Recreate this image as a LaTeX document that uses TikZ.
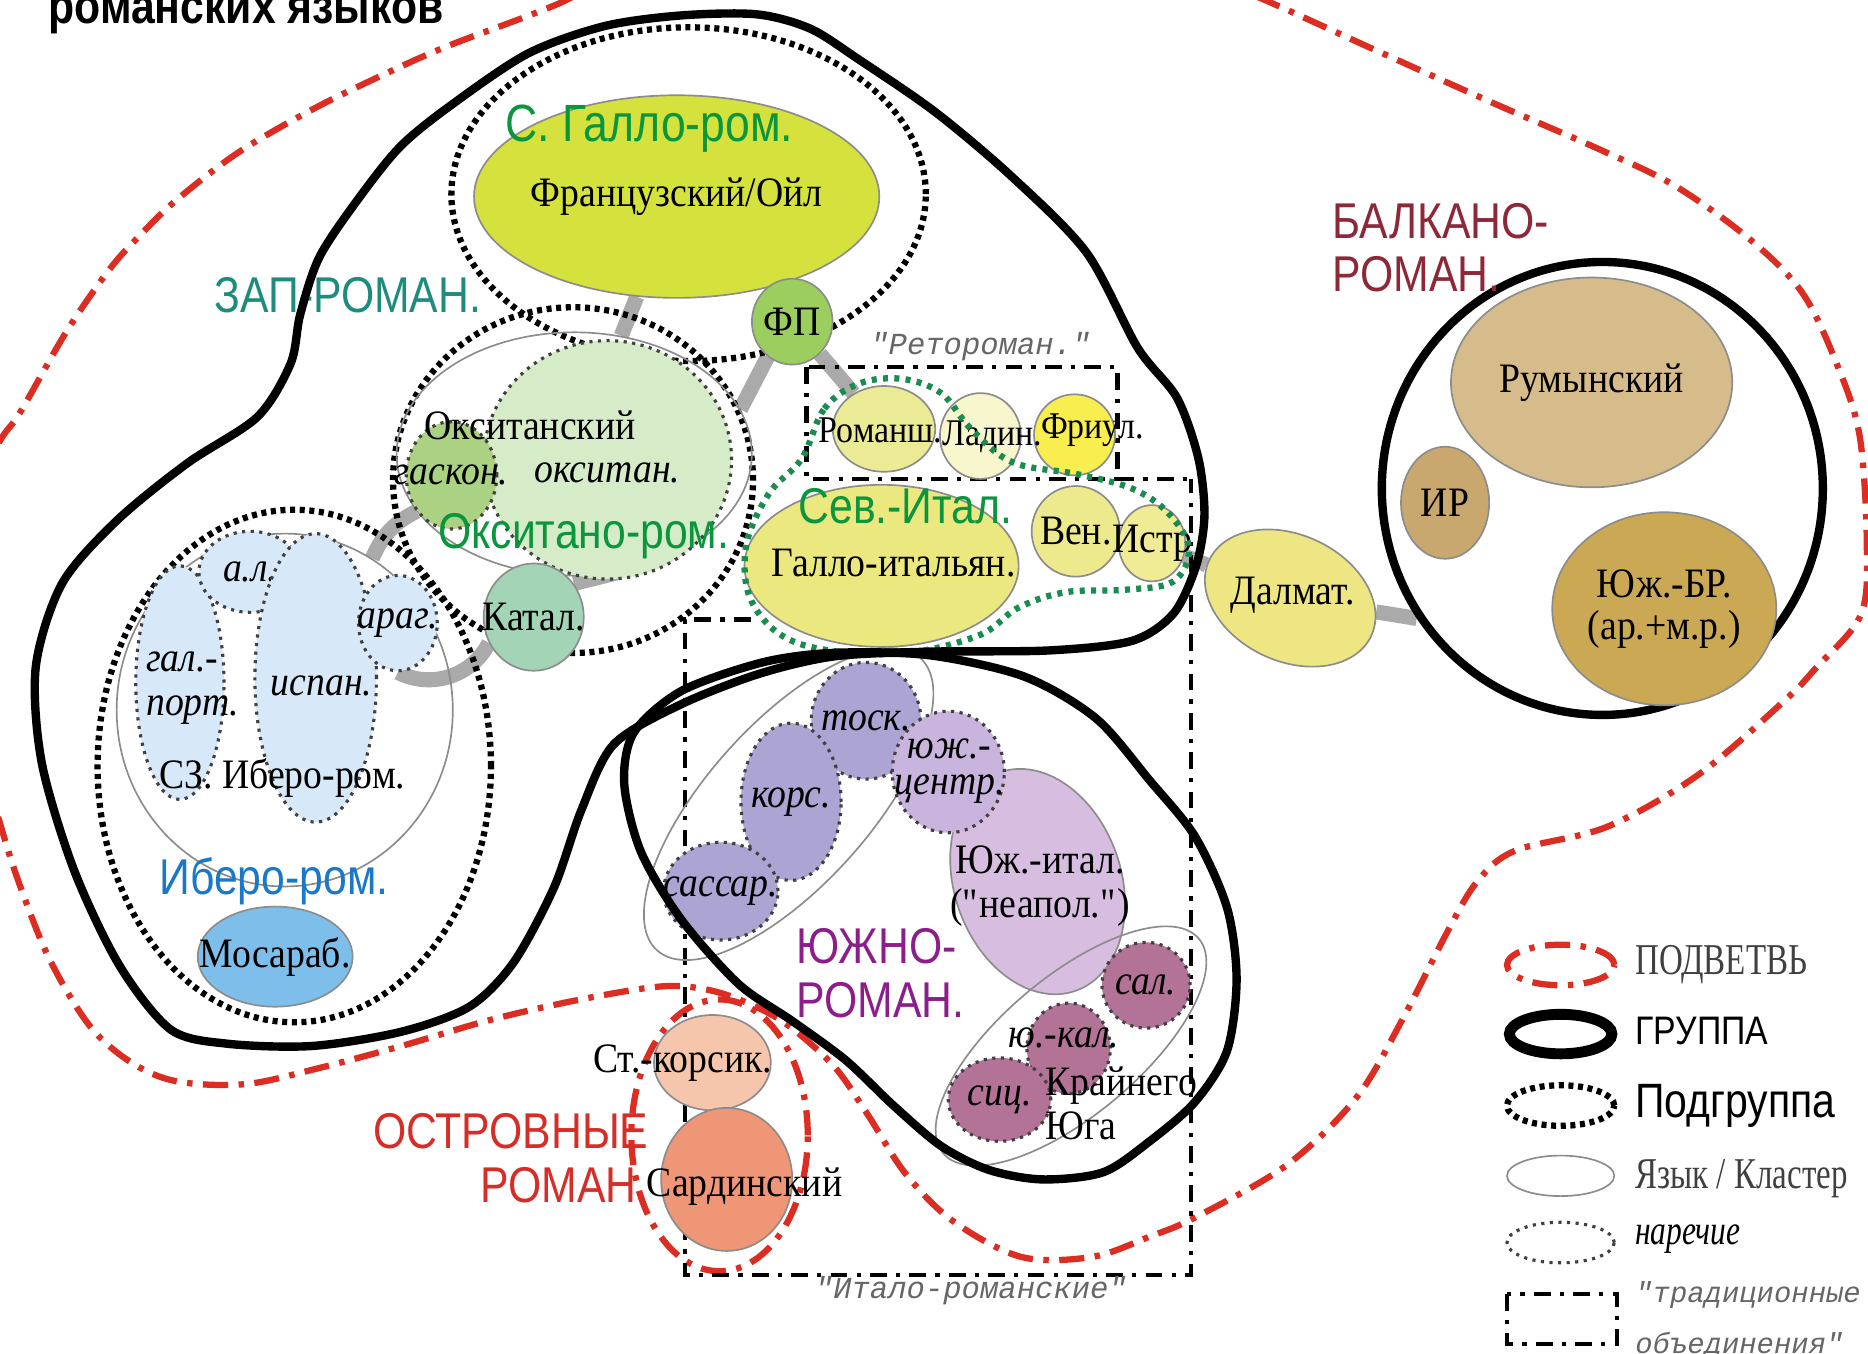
\documentclass[tikz,border=0pt]{standalone}
\usepackage{fontspec}
\setmainfont{Liberation Serif}[FakeStretch=0.9]
\newfontfamily\grpfont{Liberation Sans}[FakeStretch=0.85]
\newfontfamily\legfont{Liberation Serif}[FakeStretch=0.75]
\newfontfamily\tradfont{Liberation Mono}
\usetikzlibrary{shapes.geometric}
\pgfdeclarelayer{background}
\pgfsetlayers{background,main}

\definecolor{branchred}{RGB}{220,45,35}
\definecolor{linkgray}{RGB}{170,170,170}
\definecolor{sevgreen}{RGB}{25,140,80}
\definecolor{galgreen}{RGB}{10,150,60}
\definecolor{westteal}{RGB}{30,140,125}
\definecolor{ibblue}{RGB}{25,120,200}
\definecolor{balkred}{RGB}{140,40,55}
\definecolor{southpurple}{RGB}{140,30,140}
\definecolor{insred}{RGB}{215,45,40}
\definecolor{gallofill}{RGB}{213,225,60}
\definecolor{fpfill}{RGB}{156,205,95}
\definecolor{occfill}{RGB}{214,235,200}
\definecolor{gasfill}{RGB}{170,210,130}
\definecolor{katfill}{RGB}{162,212,181}
\definecolor{ibfill}{RGB}{215,232,248}
\definecolor{mozfill}{RGB}{125,190,235}
\definecolor{romfill}{RGB}{235,235,150}
\definecolor{ladfill}{RGB}{248,246,205}
\definecolor{friulfill}{RGB}{248,238,80}
\definecolor{gitfill}{RGB}{236,232,128}
\definecolor{venfill}{RGB}{236,234,140}
\definecolor{istrfill}{RGB}{240,236,150}
\definecolor{dalfill}{RGB}{238,230,130}
\definecolor{rumfill}{RGB}{214,188,138}
\definecolor{irfill}{RGB}{200,168,110}
\definecolor{ybrfill}{RGB}{202,168,84}
\definecolor{tosfill}{RGB}{172,164,210}
\definecolor{ycfill}{RGB}{200,180,220}
\definecolor{neafill}{RGB}{215,190,225}
\definecolor{salfill}{RGB}{178,115,150}
\definecolor{skfill}{RGB}{246,198,172}
\definecolor{sardfill}{RGB}{238,150,118}

\newcommand{\nowid}[1]{\makebox[0pt]{#1}}

\tikzset{
	grp/.style={draw=black, line width=2pt},
	subgrp/.style={ellipse, draw=black, line width=1.5pt, dash pattern=on 1.2pt off 1.1pt, inner sep=0pt},
	clus/.style={ellipse, draw=black!45, line width=0.4pt, inner sep=0pt},
	lang/.style={ellipse, draw=black!45, line width=0.4pt, inner sep=0pt, font=\fontsize{10}{10}\selectfont},
	dial/.style={ellipse, draw=black!75, line width=0.75pt, dash pattern=on 0.75pt off 1.3pt, inner sep=0pt, font=\fontsize{10}{10}\selectfont\itshape},
	branch/.style={draw=branchred, line width=1.5pt, dash pattern=on 6pt off 2.5pt on 1.3pt off 2.5pt},
	tradbox/.style={draw=black, line width=1pt, dash pattern=on 4pt off 2.2pt on 1pt off 2.2pt},
	link/.style={draw=linkgray, line width=3.6pt},
	sevit/.style={draw=sevgreen, line width=1.5pt, dash pattern=on 1.2pt off 1.5pt},
	txt/.style={inner sep=0pt, font=\fontsize{10}{10.5}\selectfont},
	stxt/.style={inner sep=0pt, font=\fontsize{9}{10}\selectfont},
	dtxt/.style={inner sep=0pt, font=\fontsize{10}{10.5}\selectfont\itshape},
	grptxt/.style={inner sep=0pt, font=\grpfont\fontsize{12}{12.8}\selectfont},
	tradtxt/.style={inner sep=0pt, text=black!60, font=\tradfont\itshape\fontsize{7.3}{8}\selectfont},
	legtxt/.style={inner sep=0pt, anchor=west, text=black!75, font=\legfont\fontsize{10.5}{12}\selectfont}
}

\begin{document}
\begin{tikzpicture}[x=0.01cm, y=-0.01cm]
	\useasboundingbox (0,0) rectangle (1568,1136);
	\clip (0,0) rectangle (1568,1136);

	\node[inner sep=0pt, anchor=base west, font=\grpfont\bfseries\fontsize{12}{14}\selectfont] (title) at (40,20) {романских языков};

	% subbranches
	\draw[branch] plot[smooth cycle, tension=0.55] coordinates {(375,39) (469,3) (560,-40) (760,-60) (960,-40) (1050,-5) (1150,40) (1250,85) (1344,126) (1406,156) (1469,201) (1513,246) (1542,306) (1561,366) (1567,456) (1562,516) (1524,561) (1498,588) (1426,650) (1349,694) (1272,714) (1240,740) (1215,782) (1176,858) (1138,922) (1080,978) (1003,1022) (965,1038) (917,1055) (857,1055) (800,1025) (760,985) (728,935) (700,895) (662,861) (630,843) (595,831) (555,828) (487,839) (412,856) (337,878) (262,898) (206,910) (150,908) (112,893) (76,862) (42,806) (17,744) (0,691) (-25,600) (-25,420) (0,370) (17,346) (56,278) (92,226) (118,197) (148,168) (200,128) (262,92) (319,64)};
	\node[branch, ellipse, minimum width=1.48cm, minimum height=2.28cm] (insular) at (604,953) {};

	% traditional groupings
	\draw[tradbox] (677,308) rectangle (938,402) -- (1000,402);
	\draw[tradbox] (630,520) -| (575,1070) -| (1000,402);
	\node[tradtxt] (rhaetolabel) at (823,291) {"Ретороман."};
	\node[tradtxt] (italolabel) at (815,1083) {"Итало-романские"};

	% Gallo-Romance
	\node[subgrp, minimum width=3.98cm, minimum height=2.8cm] (gallosub) at (578,163) {};
	\node[lang, fill=gallofill, minimum width=3.4cm, minimum height=1.7cm] (gallo) at (568,165) {\nowid{Французский/Ойл}};
	\node[lang, fill=fpfill, minimum width=0.66cm, minimum height=0.72cm] (fp) at (665,270) {ФП};
	\node[grptxt, text=galgreen, font=\grpfont\fontsize{12.5}{13}\selectfont] (gallolabel) at (545,108) {С. Галло-ром.};

	% Occitano-Romance
	\node[subgrp, minimum width=3.02cm, minimum height=2.9cm] (occsub) at (481,403) {};
	\node[clus, minimum width=2.98cm, minimum height=2.04cm] (occ) at (482,381) {};
	\node[dial, fill=occfill, minimum width=2.08cm, minimum height=2cm] (occd) at (510,386) {};
	\node[dial, fill=gasfill, minimum width=0.76cm, minimum height=0.9cm] (gascon) at (379,399) {\nowid{гаскон.}};
	\node[txt] (occname) at (445,357) {Окситанский};
	\node[dtxt] (occdname) at (510,397) {окситан.};
	\node[lang, fill=katfill, minimum width=0.84cm, minimum height=0.9cm] (katal) at (448,518) {\nowid{Катал.}};
	\node[grptxt, text=galgreen] (occlabel) at (490,450) {Окситано-ром.};

	% Ibero-Romance
	\node[subgrp, minimum width=3.3cm, minimum height=4.3cm] (ibsub) at (247,643) {};
	\node[clus, minimum width=2.82cm, minimum height=2.96cm] (swib) at (239,596) {};
	\node[dial, fill=ibfill, minimum width=0.74cm, minimum height=1.96cm] (galport) at (151,573) {};
	\node[dial, fill=ibfill, minimum width=0.86cm, minimum height=0.68cm] (al) at (210,480) {\nowid{а.л.}};
	\node[dial, fill=ibfill, minimum width=1.02cm, minimum height=2.42cm] (isp) at (265,569) {};
	\node[dial, fill=ibfill, minimum width=0.66cm, minimum height=0.8cm] (arag) at (334,523) {\nowid{араг.}};
	\node[dtxt, align=left, anchor=west] (galporttxt) at (122,578) {гал.-\\порт.};
	\node[dtxt] (isptxt) at (270,576) {испан.};
	\node[txt] (swibname) at (237,653) {СЗ. Иберо-ром.};
	\node[grptxt, text=ibblue] (iblabel) at (230,740) {Иберо-ром.};
	\node[lang, fill=mozfill, minimum width=1.3cm, minimum height=0.84cm] (moz) at (231,803) {\nowid{Мосараб.}};
	\node[grptxt, text=westteal] (westlabel) at (292,248) {ЗАП-РОМАН.};

	% Rhaeto-Romance and Northern Italian
	\node[lang, fill=romfill, minimum width=0.86cm, minimum height=0.72cm] (romansh) at (742,360) {};
	\node[lang, fill=ladfill, minimum width=0.68cm, minimum height=0.72cm] (ladin) at (823,366) {};
	\node[lang, fill=friulfill, minimum width=0.68cm, minimum height=0.68cm] (friul) at (902,365) {};
	\node[stxt] (romanshtxt) at (739,361) {Романш.};
	\node[stxt] (ladintxt) at (833,367) {Ладин.};
	\node[stxt] (friultxt) at (917,361) {Фриул.};
	\node[lang, fill=gitfill, minimum width=2.3cm, minimum height=1.36cm] (galloit) at (740,475) {};
	\node[txt] (galloittxt) at (750,473) {Галло-итальян.};
	\node[grptxt, text=galgreen] (sevlabel) at (760,425) {Сев.-Итал.};
	\node[lang, fill=venfill, minimum width=0.74cm, minimum height=0.76cm] (ven) at (903,446) {\nowid{Вен.}};
	\node[lang, fill=istrfill, minimum width=0.56cm, minimum height=0.64cm] (istr) at (967,456) {\nowid{Истр}};
	\node[lang, fill=dalfill, rotate=-25, minimum width=1.5cm, minimum height=1.06cm] (dalmat) at (1083,502) {};
	\node[txt] (daltxt) at (1085,500) {Далмат.};

	% Balkan-Romance
	\node[grp, ellipse, minimum width=3.7cm, minimum height=3.8cm] (balkan) at (1345,410) {};
	\node[lang, fill=rumfill, minimum width=2.36cm, minimum height=1.76cm] (rum) at (1336,321) {Румынский};
	\node[lang, fill=irfill, minimum width=0.74cm, minimum height=0.94cm] (ir) at (1213,422) {ИР};
	\node[lang, fill=ybrfill, minimum width=1.88cm, minimum height=1.62cm, align=center] (ybr) at (1397,511) {Юж.-БР.\\(ар.+м.р.)};
	\node[grptxt, text=balkred, align=left, anchor=west] (balklabel) at (1118,208) {БАЛКАНО-\\РОМАН.};

	% South Romance
	\node[clus, rotate=48, minimum width=3.3cm, minimum height=1.36cm] (itc) at (662,675) {};
	\node[lang, fill=neafill, rotate=19, minimum width=1.4cm, minimum height=1.94cm] (neapol) at (871,740) {};
	\node[dial, fill=tosfill, minimum width=0.92cm, minimum height=0.98cm] (tosk) at (727,605) {\nowid{тоск.}};
	\node[dial, fill=tosfill, minimum width=0.84cm, minimum height=1.32cm] (kors) at (664,673) {\nowid{корс.}};
	\node[dial, fill=tosfill, minimum width=0.96cm, minimum height=0.82cm] (sassar) at (605,748) {\nowid{сассар.}};
	\node[dial, fill=ycfill, minimum width=0.94cm, minimum height=1.02cm] (yuzhc) at (796,648) {};
	\node[dtxt, align=center, font=\fontsize{10}{8.5}\selectfont\itshape] (yuzhctxt) at (797,647) {юж.-\\центр.};
	\node[txt, align=center] (neatxt) at (873,744) {Юж.-итал.\\(\textquotedbl неапол.\textquotedbl)};
	\node[clus, rotate=40, minimum width=2.8cm, minimum height=1.16cm] (extr) at (899,878) {};
	\node[dial, fill=salfill, minimum width=0.74cm, minimum height=0.72cm] (sal) at (962,827) {\nowid{сал.}};
	\node[dial, fill=salfill, minimum width=0.7cm, minimum height=0.76cm] (yukal) at (897,880) {};
	\node[dtxt] (yukaltxt) at (893,871) {ю.-кал.};
	\node[dial, fill=salfill, minimum width=0.86cm, minimum height=0.7cm] (sic) at (839,923) {\nowid{сиц.}};
	\node[txt, align=left, anchor=west] (extrtxt) at (877,926) {Крайнего\\Юга};
	\node[grptxt, text=southpurple, align=left, anchor=west] (southlabel) at (668,817) {ЮЖНО-\\РОМАН.};

	% Insular Romance
	\node[lang, fill=skfill, minimum width=0.98cm, minimum height=0.8cm] (stkors) at (598,892) {};
	\node[txt] (stkorstxt) at (573,892) {Ст.-корсик.};
	\node[lang, fill=sardfill, minimum width=1.1cm, minimum height=1.2cm] (sard) at (610,990) {};
	\node[txt] (sardtxt) at (625,996) {Сардинский};
	\node[grptxt, text=insred, align=right, anchor=east] (inslabel) at (545,972) {ОСТРОВНЫЕ\\РОМАН.};

	% links
	\begin{pgfonlayer}{background}
		\draw[link] (gallo) -- (occ);
		\draw[link] (fp.235) -- (occ.15);
		\draw[link] (fp) -- (romansh);
		\draw[link] (occ.200) to[bend right=20] (swib.60);
		\draw[link] (arag.south) to[bend right=45] (katal.210);
		\draw[link] (katal.40) -- (occ.290);
		\draw[link] (istr) -- (dalmat);
		\draw[link] (dalmat) -- (balkan.215);
	\end{pgfonlayer}

	% groups
	\draw[sevit] plot[smooth cycle, tension=0.6] coordinates {(673,385) (692,343) (721,322) (757,318) (790,330) (815,360) (850,388) (904,398) (950,410) (980,430) (998,460) (985,488) (945,495) (895,497) (855,510) (820,534) (750,549) (670,540) (632,507) (626,460) (645,415)};
	\draw[grp] plot[smooth cycle, tension=0.5] coordinates {(336,123) (379,88) (443,45) (507,22) (571,13) (635,12) (680,24) (721,50) (785,94) (849,148) (912,212) (955,292) (988,334) (1006,385) (1011,433) (1004,475) (985,515) (950,538) (880,546) (780,547) (700,551) (636,566) (570,592) (515,625) (488,680) (465,745) (431,808) (394,845) (337,866) (262,878) (190,876) (143,864) (100,810) (62,730) (35,640) (30,560) (52,490) (98,437) (157,389) (216,350) (244,305) (252,264) (268,216) (300,168)};
	\draw[grp] plot[smooth cycle, tension=0.5] coordinates {(640,556) (700,548) (780,550) (860,568) (920,603) (965,655) (1003,702) (1030,762) (1038,822) (1030,882) (1003,925) (965,958) (926,984) (875,990) (830,982) (790,962) (750,928) (710,890) (665,857) (620,826) (572,772) (538,715) (524,658) (532,615) (572,580)};

	% legend
	\node[branch, ellipse, minimum width=0.9cm, minimum height=0.34cm] (legbranch) at (1310,810) {};
	\node[legtxt] (legbranchtxt) at (1372,810) {ПОДВЕТВЬ};
	\node[grp, ellipse, line width=2.6pt, minimum width=0.86cm, minimum height=0.3cm] (leggrp) at (1310,868) {};
	\node[legtxt, text=black, font=\grpfont\fontsize{9.5}{11}\selectfont] (leggrptxt) at (1372,865) {ГРУППА};
	\node[subgrp, minimum width=0.9cm, minimum height=0.34cm] (legsub) at (1310,928) {};
	\node[legtxt, text=black, font=\grpfont\fontsize{11.5}{13}\selectfont] (legsubtxt) at (1372,928) {Подгруппа};
	\node[clus, minimum width=0.9cm, minimum height=0.34cm] (leglang) at (1310,987) {};
	\node[legtxt] (leglangtxt) at (1372,989) {Язык / Кластер};
	\node[dial, minimum width=0.9cm, minimum height=0.34cm] (legdial) at (1310,1043) {};
	\node[legtxt, text=black, font=\legfont\itshape\fontsize{10}{12}\selectfont] (legdialtxt) at (1372,1040) {наречие};
	\draw[tradbox] (1265,1086) rectangle (1357,1128);
	\node[tradtxt, anchor=west, font=\tradfont\itshape\fontsize{6.9}{8}\selectfont] (legtradtxt) at (1372,1087) {"традиционные};
	\node[tradtxt, anchor=west, font=\tradfont\itshape\fontsize{6.9}{8}\selectfont] (legtradtxt2) at (1372,1130) {объединения"};
\end{tikzpicture}
\end{document}
